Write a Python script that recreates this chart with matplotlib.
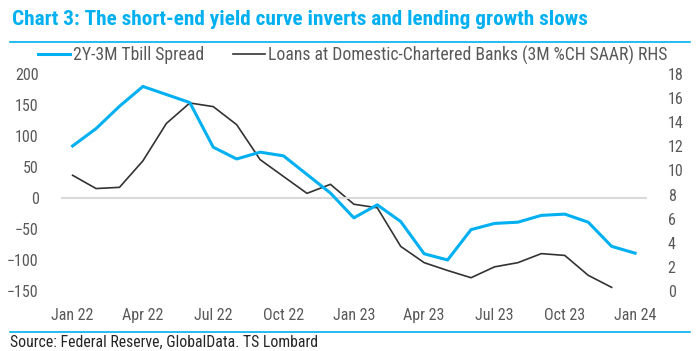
import matplotlib
matplotlib.use('Agg')
import matplotlib.pyplot as plt
from matplotlib import font_manager
from matplotlib.lines import Line2D

# pick a narrow font if there is one
names = set(f.name for f in font_manager.fontManager.ttflist)
font = 'Roboto'
for cand in ['Roboto Condensed', 'Liberation Sans Narrow', 'Arial Narrow']:
    if cand in names:
        font = cand
        break
plt.rcParams['font.family'] = [font, 'DejaVu Sans']

months = ['Jan 22', 'Feb 22', 'Mar 22', 'Apr 22', 'May 22', 'Jun 22', 'Jul 22', 'Aug 22',
          'Sep 22', 'Oct 22', 'Nov 22', 'Dec 22', 'Jan 23', 'Feb 23', 'Mar 23', 'Apr 23',
          'May 23', 'Jun 23', 'Jul 23', 'Aug 23', 'Sep 23', 'Oct 23', 'Nov 23', 'Dec 23',
          'Jan 24']

# 2Y-3M Tbill spread, bp (left axis)
spread = [84, 112, 148, 180, 167, 154, 82, 63, 74, 68, 38, 8,
          -32, -11, -38, -90, -100, -51, -41, -39, -28, -26, -39, -78, -89]

# Loans at domestic-chartered banks, 3M %ch saar (right axis), ends Dec 23
loans = [9.6, 8.5, 8.6, 10.8, 13.9, 15.6, 15.3, 13.8, 10.9, 9.5, 8.1, 8.85,
         7.2, 6.9, 3.7, 2.35, 1.7, 1.1, 2.0, 2.35, 3.1, 2.95, 1.3, 0.3]

blue = '#00B0F0'
dark = '#333333'
grey = '#595959'

fig = plt.figure(figsize=(7, 3.51), dpi=100)
ax = fig.add_axes([0.087, 0.171, 0.837, 0.618])
ax2 = ax.twinx()

x = list(range(len(months)))
ax.axhline(0, color='#D9D9D9', lw=1.5, zorder=1)
l1, = ax.plot(x, spread, color=blue, lw=2.2, zorder=3)
l2, = ax2.plot(x[:len(loans)], loans, color=dark, lw=1.2, zorder=2)
ax.set_zorder(ax2.get_zorder() + 1)
ax.patch.set_visible(False)

ax.set_xlim(-0.5, 24.5)
ax.set_ylim(-150, 200)
ax.set_yticks(range(-150, 201, 50))
ax2.set_ylim(0, 18)
ax2.set_yticks(range(0, 19, 2))
ax.set_xticks(x[::3])
ax.set_xticklabels(months[::3])

for a in (ax, ax2):
    for s in a.spines.values():
        s.set_visible(False)
ax.tick_params(axis='both', length=0, labelsize=11.5, colors=grey)
ax.tick_params(axis='y', pad=16)
ax.tick_params(axis='x', pad=12)
ax2.tick_params(axis='y', length=0, labelsize=11.5, colors=grey, pad=15)

fig.text(0.017, 0.945, 'Chart 3: The short-end yield curve inverts and lending growth slows',
         color=blue, fontsize=15.3, fontweight='bold', va='center', ha='left')
fig.add_artist(Line2D([0.014, 0.986], [0.88, 0.88], color=blue, lw=1.2))
fig.add_artist(Line2D([0.014, 0.986], [0.054, 0.054], color=blue, lw=1.2))
fig.text(0.015, 0.026, 'Source: Federal Reserve, GlobalData. TS Lombard',
         color='#262626', fontsize=11.3, va='center', ha='left')

fig.legend([l1, l2], ['2Y-3M Tbill Spread', 'Loans at Domestic-Chartered Banks (3M %CH SAAR) RHS'],
           loc='center left', bbox_to_anchor=(0.054, 0.843), ncol=2, frameon=False,
           fontsize=12.7, labelcolor=grey, handlelength=1.85, handletextpad=0.15,
           columnspacing=1.6, borderaxespad=0, borderpad=0)

fig.savefig('out.png', dpi=100)
